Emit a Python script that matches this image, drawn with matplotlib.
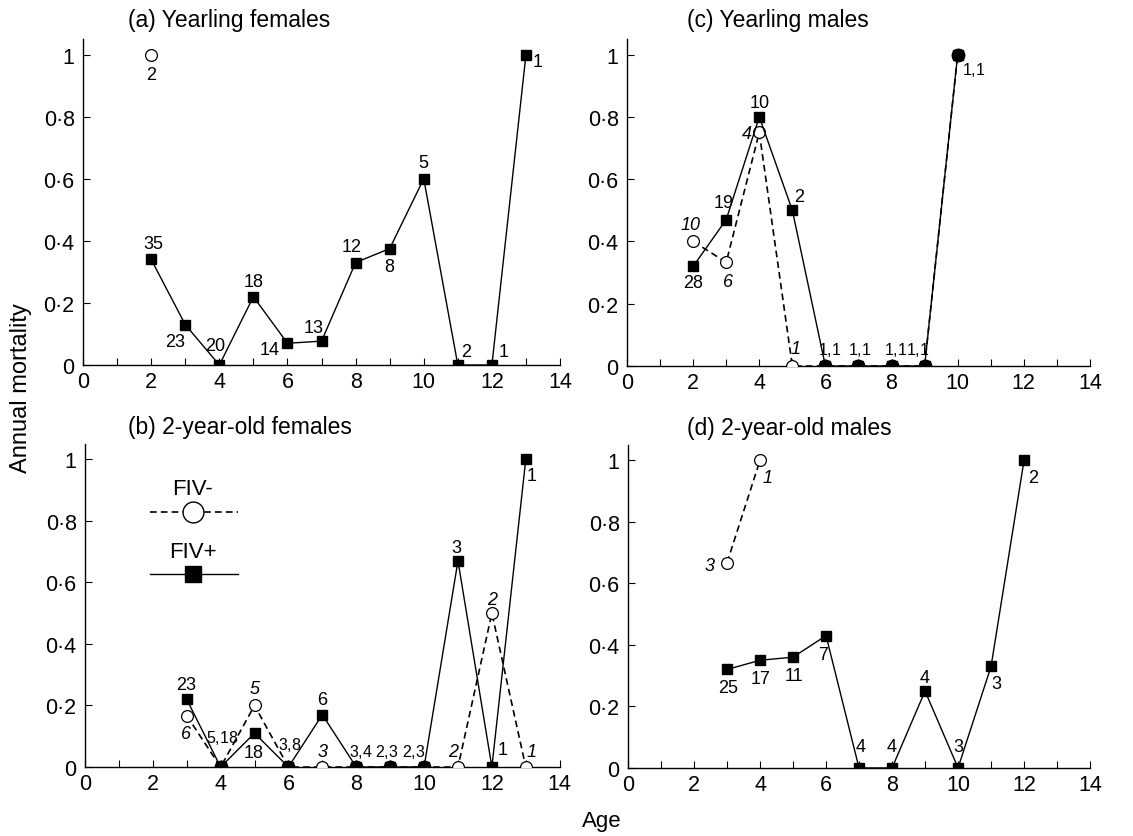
import numpy as np
import matplotlib.pyplot as plt
from matplotlib.lines import Line2D

plt.rcParams['font.family'] = ['Liberation Sans', 'DejaVu Sans']
plt.rcParams['mathtext.fontset'] = 'custom'
plt.rcParams['mathtext.rm'] = 'Liberation Sans'
plt.rcParams['mathtext.it'] = 'Liberation Sans:italic'

# ---- data: annual mortality by age (FIV+ squares/solid, FIV- circles/dashed)
# (a) yearling females
a_pos_age = [2, 3, 4, 5, 6, 7, 8, 9, 10, 11, 12, 13]
a_pos_val = [0.34, 0.13, 0.0, 0.22, 0.07, 0.077, 0.33, 0.375, 0.6, 0.0, 0.0, 1.0]
a_pos_n = ['35', '23', '20', '18', '14', '13', '12', '8', '5', '2', '1', '1']
a_neg_age = [2]
a_neg_val = [1.0]
a_neg_n = ['2']
a_both_n = {}

# (b) 2-year-old females
b_pos_age = [3, 4, 5, 6, 7, 8, 9, 10, 11, 12, 13]
b_pos_val = [0.22, 0.0, 0.11, 0.0, 0.17, 0.0, 0.0, 0.0, 0.67, 0.0, 1.0]
b_pos_n = ['23', '', '18', '', '6', '', '', '', '3', '1', '1']
b_neg_age = [3, 4, 5, 6, 7, 8, 9, 10, 11, 12, 13]
b_neg_val = [0.167, 0.0, 0.2, 0.0, 0.0, 0.0, 0.0, 0.0, 0.0, 0.5, 0.0]
b_neg_n = ['6', '', '5', '', '3', '', '', '', '2', '2', '1']
b_both_n = {4: ('5', '18'), 6: ('3', '8'), 8: ('3', '4'), 9: ('2', '3'), 10: ('2', '3')}

# (c) yearling males
c_pos_age = [2, 3, 4, 5, 6, 7, 8, 9, 10]
c_pos_val = [0.32, 0.47, 0.8, 0.5, 0.0, 0.0, 0.0, 0.0, 1.0]
c_pos_n = ['28', '19', '10', '2', '', '', '', '', '']
c_neg_age = [2, 3, 4, 5, 6, 7, 8, 9, 10]
c_neg_val = [0.4, 0.333, 0.75, 0.0, 0.0, 0.0, 0.0, 0.0, 1.0]
c_neg_n = ['10', '6', '4', '1', '', '', '', '', '']
c_both_n = {6: ('1', '1'), 7: ('1', '1'), 8: ('1', '1'), 9: ('1', '1'), 10: ('1', '1')}

# (d) 2-year-old males
d_pos_age = [3, 4, 5, 6, 7, 8, 9, 10, 11, 12]
d_pos_val = [0.32, 0.35, 0.36, 0.43, 0.0, 0.0, 0.25, 0.0, 0.33, 1.0]
d_pos_n = ['25', '17', '11', '7', '4', '4', '4', '3', '3', '2']
d_neg_age = [3, 4]
d_neg_val = [0.667, 1.0]
d_neg_n = ['3', '1']
d_both_n = {}

titles = ['(a) Yearling females', '(b) 2-year-old females',
          '(c) Yearling males', '(d) 2-year-old males']

# label offsets (pixels) for the n-values
a_pos_off = [(2, 16), (-10, -17), (-4, 20), (0, 15), (-18, -6), (-8, 14), (-4, 16),
             (0, -18), (0, 16), (8, 14), (12, 14), (12, -7)]
a_neg_off = [(0, -20)]
a_both_off = {}
b_pos_off = [(-1, 15), None, (-1, -19), None, (0, 15), None, None, None, (-2, 13), (11, 18), (6, -16)]
b_neg_off = [(-1, -18), None, (0, 17), None, (0, 16), None, None, None, (-5, 16), (0, 14), (6, 16)]
b_both_off = {4: (2, 30), 6: (1, 23), 8: (5, 16), 9: (-3, 16), 10: (-10, 16)}
c_pos_off = [(0, -16), (-3, 17), (0, 14), (7, 14), None, None, None, None, None]
c_neg_off = [(-3, 17), (2, -19), (-12, -1), (3, 18), None, None, None, None, None]
c_both_off = {6: (4, 17), 7: (1, 17), 8: (4, 17), 9: (-7, 17), 10: (16, -14)}
d_pos_off = [(1, -18), (1, -18), (1, -18), (-3, -19), (2, 21), (0, 21), (0, 14), (0, 21),
             (5, -17), (9, -17)]
d_neg_off = [(-17, -3), (7, -17)]
d_both_off = {}

panels = [
    (a_pos_age, a_pos_val, a_pos_n, a_pos_off, a_neg_age, a_neg_val, a_neg_n, a_neg_off, a_both_n, a_both_off),
    (b_pos_age, b_pos_val, b_pos_n, b_pos_off, b_neg_age, b_neg_val, b_neg_n, b_neg_off, b_both_n, b_both_off),
    (c_pos_age, c_pos_val, c_pos_n, c_pos_off, c_neg_age, c_neg_val, c_neg_n, c_neg_off, c_both_n, c_both_off),
    (d_pos_age, d_pos_val, d_pos_n, d_pos_off, d_neg_age, d_neg_val, d_neg_n, d_neg_off, d_both_n, d_both_off),
]

rects = [
    [0.0733, 0.5627, 0.4210, 0.3895],
    [0.0750, 0.0824, 0.4190, 0.3860],
    [0.5534, 0.5615, 0.4086, 0.3907],
    [0.5543, 0.0813, 0.4078, 0.3860],
]
title_pos = [(0.094, 1.061), (0.090, 1.053), (0.130, 1.061), (0.128, 1.055)]

fig = plt.figure(figsize=(11.33, 8.37), dpi=100)
DASH = (0, (4, 2.5))
ANN = 13
ANN_BOTH = 11.5


def fmt(v):
    if v == 0:
        return '0'
    if v == 1:
        return '1'
    return ('%.1f' % v).replace('.', '\u00b7')


for k, (pa, pv, pn, po, na, nv, nn, no, bn, bo) in enumerate(panels):
    ax = fig.add_axes(rects[k])
    ax.plot(na, nv, color='black', lw=1.2, ls=DASH, marker='o', ms=8.5,
            mfc='white', mec='black', mew=0.9, zorder=3)
    ax.plot(pa, pv, color='black', lw=1.0, marker='s', ms=7,
            mfc='black', mec='black', zorder=4)
    # filled circles where FIV- and FIV+ coincide
    both = [a for a, v in zip(na, nv) if a in pa and pv[pa.index(a)] == v]
    ax.plot(both, [nv[na.index(a)] for a in both], ls='none', marker='o', ms=9,
            mfc='black', mec='black', zorder=5)

    for a, v, t, o in zip(pa, pv, pn, po):
        if t and o:
            ax.annotate(t, (a, v), xytext=o, textcoords='offset pixels',
                        ha='center', va='center', fontsize=ANN)
    for a, v, t, o in zip(na, nv, nn, no):
        if t and o:
            style = 'normal' if k == 0 else 'italic'
            ax.annotate(t, (a, v), xytext=o, textcoords='offset pixels',
                        ha='center', va='center', fontsize=ANN, style=style)
    for a, (t1, t2) in bn.items():
        ax.annotate(r'$\mathit{%s}$,%s' % (t1, t2), (a, nv[na.index(a)]),
                    xytext=bo[a], textcoords='offset pixels',
                    ha='center', va='center', fontsize=ANN_BOTH)

    ax.set_xlim(0, 14)
    ax.set_ylim(0, 1.05)
    ax.set_xticks(np.arange(0, 15, 2))
    ax.set_xticks(np.arange(1, 14, 2), minor=True)
    yt = np.round(np.arange(0, 1.01, 0.2), 1)
    ax.set_yticks(yt)
    ax.set_yticklabels([fmt(v) for v in yt])
    ax.tick_params(axis='both', which='both', direction='in', length=5,
                   width=0.8, labelsize=15.5)
    ax.tick_params(axis='x', pad=4)
    ax.tick_params(axis='y', pad=6)
    for s in ['top', 'right']:
        ax.spines[s].set_visible(False)
    for s in ['left', 'bottom']:
        ax.spines[s].set_linewidth(1.0)
    ax.text(title_pos[k][0], title_pos[k][1], titles[k], transform=ax.transAxes,
            ha='left', va='center', fontsize=16.5)
    for lab in ax.get_xticklabels() + ax.get_yticklabels():
        lab.set_clip_on(False)

    if k == 1:
        # hand-drawn key
        ax.text(0.227, 0.861, 'FIV-', transform=ax.transAxes, ha='center',
                va='center', fontsize=16)
        ax.add_line(Line2D([0.137, 0.322], [0.789, 0.789], transform=ax.transAxes,
                           color='black', lw=1.2, ls=DASH))
        ax.add_line(Line2D([0.227], [0.789], transform=ax.transAxes, marker='o',
                           ms=15, mfc='white', mec='black', mew=1.0, ls='none'))
        ax.text(0.227, 0.666, 'FIV+', transform=ax.transAxes, ha='center',
                va='center', fontsize=16)
        ax.add_line(Line2D([0.137, 0.322], [0.598, 0.598], transform=ax.transAxes,
                           color='black', lw=1.0))
        ax.add_line(Line2D([0.227], [0.598], transform=ax.transAxes, marker='s',
                           ms=12, mfc='black', mec='black', ls='none'))

fig.text(21 / 1133, 1 - 388 / 837, 'Annual mortality', rotation=90,
         ha='center', va='center', fontsize=17)
fig.text(602 / 1133, 1 - 822 / 837, 'Age', ha='center', va='center', fontsize=16)

fig.savefig('out.png', dpi=100)
